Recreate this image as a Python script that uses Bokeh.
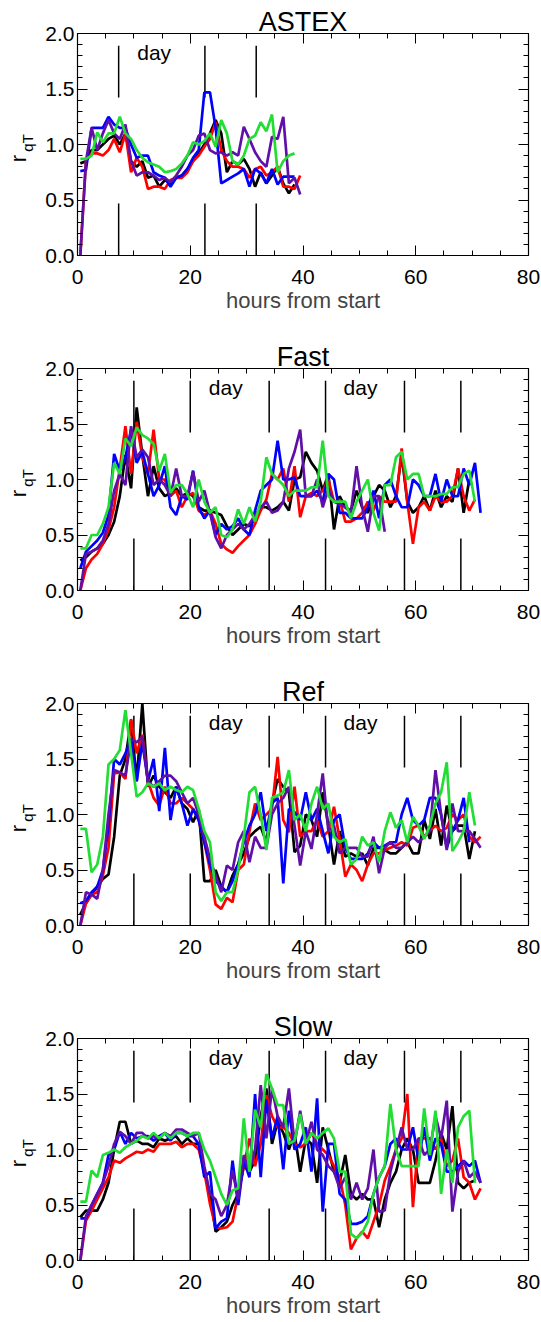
import math
import numpy as np
from bokeh.plotting import figure
from bokeh.models import (Range1d, LinearAxis, SingleIntervalTicker,
                          PrintfTickFormatter, Label)
from bokeh.layouts import column
from bokeh.embed import file_html
from bokeh.resources import INLINE

# ---------------- data ----------------
HOURS = np.arange(0.5, 72.0, 1.0)          # hourly sample times

# ASTEX
astex_black = [0.83,0.85,0.95,0.95,1.0,1.05,1.08,1.0,1.1,0.85, 0.8,0.85,0.7,0.72,0.62,0.68,0.65,0.7,0.72,0.78,
               0.85,0.92,1.0,1.1,1.22,1.1,0.75,0.85,0.82,0.87, 0.78,0.62,0.75,0.65,0.72,0.8,0.65,0.56,0.64]
astex_red = [0.0,0.85,0.92,0.92,0.9,0.95,1.05,0.93,1.1,0.75, 0.88,0.8,0.6,0.62,0.62,0.6,0.68,0.7,0.7,0.75,
             0.85,0.9,0.98,1.05,1.2,0.95,0.85,0.8,0.8,0.78, 0.7,0.78,0.8,0.72,0.75,0.8,0.62,0.62,0.6,0.72]
astex_blue = [0.76,0.77,1.15,1.15,1.15,1.25,1.18,1.15,1.15,1.0, 0.88,0.9,0.9,0.75,0.72,0.7,0.62,0.7,0.72,0.78,
              0.88,0.95,1.47,1.47,1.15,0.65,0.68,0.71,0.74,0.78, 0.62,0.78,0.74,0.65,0.78,0.64,0.71,0.71,0.71]
astex_purple = [0.0,0.85,1.15,0.95,1.1,1.22,1.1,1.05,1.18,0.85, 0.72,0.75,0.75,0.72,0.68,0.7,0.66,0.72,0.8,0.9,
                0.95,1.08,1.1,0.95,0.92,0.93,0.9,0.93,0.9,1.16, 1.05,0.93,0.85,0.8,1.07,1.05,1.25,0.65,0.7,0.55]
astex_green = [0.87,0.87,0.9,1.11,1.02,1.1,1.1,1.25,1.1,1.05, 0.95,0.88,0.84,0.82,0.8,0.75,0.76,0.78,0.83,0.9,
               1.02,1.0,1.03,1.1,0.98,1.22,1.1,0.85,0.82,0.9, 1.05,1.08,1.2,1.12,1.27,0.75,0.85,0.9,0.92]
astex_day_lines = [7.3, 22.6, 31.7]
astex_day_labels = [13.6]

# Fast
fast_black = [0.27,0.3,0.35,0.38,0.42,0.5,0.62,0.85,1.22,0.92, 1.65,1.22,0.85,1.12,0.92,0.85,0.88,0.92,0.85,0.88,
              0.85,0.75,0.72,0.72,0.7,0.68,0.58,0.5,0.55,0.6, 0.58,0.65,0.75,0.75,0.72,0.75,0.8,0.72,1.0,1.02,
              1.25,1.15,1.08,0.9,1.05,0.55,0.85,0.75,0.72,0.9, 0.75,0.7,0.85,0.95,0.9,0.75,0.85,1.22,0.8,0.7,
              0.75,0.85,0.72,0.9,0.75,0.85,0.8,1.1,0.7,1.0]
fast_red = [0.0,0.2,0.28,0.33,0.42,0.55,0.75,1.1,1.48,1.05, 1.52,1.2,1.05,1.45,1.0,1.0,0.85,0.9,0.75,0.85,
            0.88,0.72,0.68,0.72,0.6,0.42,0.37,0.34,0.4,0.45, 0.5,0.6,0.72,0.82,1.05,1.0,1.1,0.8,1.12,0.66,
            0.85,0.88,0.85,0.9,1.0,0.8,0.82,0.62,0.62,0.65, 0.7,0.8,0.72,0.85,0.8,0.8,0.8,1.28,0.8,0.42,
            0.75,0.8,0.72,0.85,0.8,0.8,0.85,1.1,0.85,0.72, 0.82]
fast_blue = [0.2,0.35,0.4,0.45,0.52,0.68,1.23,1.08,1.2,1.45, 1.15,1.25,1.05,0.85,0.95,1.12,0.75,0.68,0.85,0.82,
             1.08,0.75,0.65,0.72,0.5,0.6,0.55,0.58,0.65,0.55, 0.5,0.72,0.9,0.95,1.0,1.35,1.0,1.0,1.02,0.85,
             0.85,0.85,0.9,0.8,1.05,1.0,0.7,0.7,0.65,0.65, 0.65,0.75,0.9,0.65,0.95,1.0,0.85,0.75,0.75,1.0,
             0.95,0.85,0.85,1.05,0.8,1.0,0.85,0.85,1.1,0.95, 1.15,0.7]
fast_purple = [0.0,0.33,0.35,0.38,0.45,0.6,0.9,1.05,0.95,1.48, 1.2,1.27,1.2,0.95,1.0,0.95,0.85,1.1,0.85,0.85,
               1.07,0.8,0.9,0.7,0.48,0.38,0.5,0.55,0.6,0.55, 0.6,0.68,0.75,0.8,0.7,0.72,0.8,1.1,1.25,1.45,
               0.85,0.85,1.0,0.75,0.92,0.8,0.78,0.75,0.7,1.12, 0.75,0.53,0.85,0.85,0.53]
fast_green = [0.38,0.38,0.5,0.5,0.6,0.75,1.15,1.05,1.37,1.3, 1.47,1.4,1.37,1.32,1.08,1.23,0.88,0.95,0.95,0.87,
              0.75,1.0,0.8,0.7,0.75,0.5,0.48,0.55,0.73,0.6, 0.75,0.62,0.8,1.2,1.05,1.0,0.95,0.85,0.9,0.9,
              0.9,0.93,0.93,1.35,0.85,0.8,0.8,0.8,0.65,0.8, 0.9,1.0,0.7,0.54,0.95,0.95,1.2,1.25,1.0,1.05,
              1.05,0.85,0.85,0.85,0.87,0.87,0.93,0.93,1.05,1.08, 0.8]
day_lines_long = [10.0, 20.0, 34.0, 44.0, 58.0, 68.0]
day_labels_long = [26.3, 50.2]

# Ref
ref_black = [0.1,0.2,0.28,0.35,0.42,0.46,0.8,1.35,1.5,1.85, 1.3,2.0,1.25,1.35,1.25,1.2,1.15,1.25,1.1,1.05,
             0.93,1.05,0.4,0.4,0.5,0.35,0.3,0.45,0.55,0.65, 0.8,0.85,0.89,0.75,1.1,1.32,1.25,1.2,0.66,0.72,
             1.0,0.95,0.8,1.2,0.9,0.55,0.85,0.62,0.65,0.62, 0.65,0.54,0.7,0.7,0.68,0.65,0.65,0.7,0.75,0.65,
             0.65,0.95,0.78,1.05,0.72,1.08,0.85,0.9,0.9,0.6, 0.85]
ref_red = [0.0,0.2,0.28,0.3,0.45,0.7,1.37,1.38,1.32,1.86, 1.55,1.72,1.3,1.15,1.08,1.25,1.1,1.1,1.15,1.1,
           1.05,0.95,0.75,0.5,0.19,0.15,0.25,0.21,0.5,0.55, 0.85,1.1,0.95,1.0,1.05,1.52,0.95,0.84,1.25,0.8,
           0.85,0.85,0.95,0.8,0.85,1.07,0.78,0.44,0.55,0.5, 0.4,0.55,0.65,0.65,0.68,0.7,0.72,0.75,0.72,0.88,
           0.9,0.8,0.85,0.9,0.85,0.88,1.0,0.95,1.0,0.8, 0.75,0.8]
ref_blue = [0.2,0.22,0.3,0.35,0.5,0.9,1.5,1.45,1.55,1.68, 1.3,1.65,1.3,1.5,1.03,1.6,0.95,1.25,1.1,0.9,
            1.05,0.95,0.75,0.55,0.4,0.35,0.3,0.4,0.55,0.75, 0.9,1.0,1.2,0.85,1.1,1.15,0.38,1.05,1.02,0.95,
            1.2,0.95,1.05,0.85,0.65,0.95,1.0,0.7,0.6,0.6, 0.6,0.65,0.75,0.7,0.72,0.75,0.75,1.0,1.15,0.95,
            0.9,0.95,1.15,1.15,1.0,0.7,0.85,0.95,1.15,0.75]
ref_purple = [0.0,0.3,0.28,0.24,0.5,1.0,1.4,1.38,1.35,1.68, 1.65,1.7,1.3,1.25,1.3,1.35,1.35,1.3,1.2,1.1,
              1.15,1.0,0.8,0.6,0.45,0.3,0.54,0.5,0.75,0.85, 0.57,0.8,0.7,0.7,1.0,1.1,1.15,1.25,0.9,0.54,
              0.85,0.69,1.0,1.37,0.85,0.9,0.65,0.7,0.7,0.7, 0.62,0.62,0.8,0.47,0.7,0.75,0.7,0.7,0.75,0.8,
              0.75,0.8,0.85,1.4,1.0,0.68,1.1,0.85,0.85,0.85, 0.78,0.7]
ref_green = [0.87,0.87,0.48,0.55,0.8,1.45,1.5,1.58,1.94,1.55, 1.16,1.2,1.28,1.25,1.28,1.22,1.25,1.22,1.2,1.25,
             1.22,1.05,0.85,0.75,0.3,0.22,0.3,0.3,0.5,0.8, 1.2,1.25,1.0,0.68,1.15,1.17,1.2,1.4,0.95,1.0,
             0.85,1.1,1.25,1.05,1.1,0.8,0.75,0.78,0.55,0.6, 0.8,0.72,0.75,0.57,0.85,1.02,0.88,0.95,0.75,0.98,
             0.9,0.78,0.9,1.1,1.2,1.47,0.67,0.75,0.85,1.2, 0.9]

# Slow
slow_black = [0.39,0.45,0.45,0.45,0.55,0.7,1.0,1.25,1.25,1.05, 1.08,1.05,1.05,1.02,1.1,1.08,1.1,1.12,1.05,1.1,
              1.05,1.05,0.8,0.6,0.26,0.3,0.35,0.5,0.6,0.85, 0.8,0.9,1.3,1.55,1.05,1.25,1.15,1.0,1.15,0.8,
              1.1,1.05,0.7,1.2,1.0,0.8,0.7,0.95,0.6,0.55, 0.6,0.55,0.55,0.3,0.55,0.7,0.8,1.0,1.1,1.0,
              0.7,0.7,0.7,0.9,1.15,1.0,1.39,0.7,0.65,0.7, 0.72]
slow_red = [0.0,0.36,0.45,0.55,0.65,0.75,0.9,0.88,0.92,0.95, 0.98,0.97,1.0,0.98,1.05,1.05,1.05,1.07,1.02,1.05,
            1.05,1.0,0.8,0.51,0.3,0.29,0.3,0.35,0.6,0.85, 1.1,0.85,1.05,1.49,1.3,1.2,1.2,1.15,1.05,1.02,
            1.05,1.15,1.05,1.0,0.95,0.85,0.75,0.5,0.1,0.2, 0.26,0.2,0.35,0.5,0.72,0.85,1.0,1.1,1.5,0.48,
            1.1,1.1,1.1,1.0,1.1,0.85,0.9,1.1,0.75,0.7, 0.55,0.65]
slow_blue = [0.38,0.38,0.5,0.6,0.7,0.95,1.0,1.16,1.05,1.15, 1.1,1.12,1.12,1.08,1.12,1.15,1.08,1.15,1.15,1.12,
             1.12,1.05,0.75,0.8,0.29,0.35,0.38,0.9,0.5,0.9, 0.75,1.5,0.75,1.45,1.1,1.3,0.82,1.35,1.0,1.05,
             1.2,0.8,1.46,0.44,1.05,1.05,0.6,0.55,0.33,0.33, 0.35,0.4,0.6,0.75,0.85,1.05,1.1,1.0,1.0,1.2,
             0.9,1.2,0.9,1.1,1.05,0.8,0.8,0.85,0.9,0.85, 0.9,0.7]
slow_purple = [0.0,0.4,0.5,0.6,0.7,0.85,1.05,1.16,1.12,1.05, 1.15,1.15,1.1,1.12,1.1,1.15,1.12,1.18,1.18,1.15,
               1.12,1.15,0.85,0.6,0.55,0.4,0.5,0.81,0.55,0.95, 0.8,1.0,1.58,1.1,1.55,1.3,1.2,1.55,1.05,1.35,
               1.05,1.25,1.0,0.95,0.85,0.8,0.65,0.75,0.55,0.7, 0.55,0.65,1.0,0.44,0.45,0.8,1.0,1.2,1.0,1.0,
               1.1,0.95,1.0,1.3,1.1,1.44,0.44,0.8,0.9,0.75, 0.8,0.7]
slow_green = [0.53,0.53,0.81,0.75,0.95,0.97,1.0,0.97,1.02,1.05, 1.08,1.12,1.1,1.15,1.1,1.15,1.1,1.15,1.15,1.12,
              1.15,1.15,1.0,0.9,0.75,0.6,0.5,0.63,0.65,1.28, 0.8,1.36,1.2,1.68,1.55,1.4,1.4,1.05,1.08,1.32,
              1.05,1.15,1.1,1.15,1.19,1.1,0.8,0.8,0.24,0.2, 0.25,0.35,0.6,0.75,0.85,1.41,1.0,0.85,0.85,0.85,
              0.85,1.37,0.95,1.35,0.6,1.0,0.7,1.2,1.3,1.35, 0.7]

SERIES_COLORS = ["#000000", "#FF0000", "#0000FF", "#6010A8", "#22DD33"]

PANELS = [
    ("ASTEX", [astex_black, astex_red, astex_blue, astex_purple, astex_green], astex_day_lines, astex_day_labels),
    ("Fast", [fast_black, fast_red, fast_blue, fast_purple, fast_green], day_lines_long, day_labels_long),
    ("Ref", [ref_black, ref_red, ref_blue, ref_purple, ref_green], day_lines_long, day_labels_long),
    ("Slow", [slow_black, slow_red, slow_blue, slow_purple, slow_green], day_lines_long, day_labels_long),
]

# ---------------- styling ----------------
FONT = "Liberation Sans"
DAY_LINE_TOP = 1.89


def style_axis(ax, show_labels):
    ax.axis_line_color = "black"
    ax.axis_line_width = 1.2
    ax.major_tick_in = 10
    ax.major_tick_out = 0
    ax.minor_tick_in = 5
    ax.minor_tick_out = 0
    ax.major_tick_line_color = "black"
    ax.minor_tick_line_color = "black"
    ax.major_label_text_font = FONT
    if show_labels:
        ax.major_label_text_font_size = "21px"
        ax.major_label_text_color = "black"
    else:
        ax.major_label_text_font_size = "0px"
        ax.major_label_text_color = None
        ax.major_label_standoff = 0


def make_panel(title, series, day_lines, day_labels, height, bottom):
    p = figure(width=541, height=height, x_range=Range1d(0, 80), y_range=Range1d(0, 2.0),
               output_backend="svg", toolbar_location=None,
               x_axis_type=None, y_axis_type=None,
               min_border_left=76, min_border_right=13, min_border_top=33,
               min_border_bottom=bottom)
    p.outline_line_color = None
    p.background_fill_color = "white"
    p.border_fill_color = "white"

    for side in ["below", "above"]:
        ax = LinearAxis(ticker=SingleIntervalTicker(interval=20, num_minor_ticks=4))
        style_axis(ax, side == "below")
        if side == "below":
            ax.major_label_standoff = 14
            ax.axis_label = "hours from start"
            ax.axis_label_text_font = FONT
            ax.axis_label_text_font_size = "22px"
            ax.axis_label_text_font_style = "normal"
            ax.axis_label_standoff = 1
        p.add_layout(ax, side)
    for side in ["left", "right"]:
        ax = LinearAxis(ticker=SingleIntervalTicker(interval=0.5, num_minor_ticks=5),
                        formatter=PrintfTickFormatter(format="%.1f"))
        style_axis(ax, side == "left")
        if side == "left":
            ax.major_label_standoff = 3
        p.add_layout(ax, side)

    # day / night markers
    p.segment(x0=day_lines, y0=[0] * len(day_lines), x1=day_lines,
              y1=[DAY_LINE_TOP] * len(day_lines),
              line_color="black", line_width=1.5, line_dash="52 106")

    for vals, color in zip(series, SERIES_COLORS):
        p.line(HOURS[:len(vals)], vals, line_color=color, line_width=2.7)

    for xl in day_labels:
        p.add_layout(Label(x=xl, y=1.83, text="day", text_align="center",
                           text_baseline="alphabetic", text_font=FONT,
                           text_font_size="21px", text_color="black"))

    # panel title (placed in the top side panel so it is not clipped to the frame)
    p.add_layout(Label(x=40, y=2.105, text=title, text_align="center",
                       text_baseline="alphabetic", text_font=FONT,
                       text_font_size="27px", text_color="black"), "above")

    # y-axis label r_qT (r with subscript qT)
    p.add_layout(Label(x=-10.4, y=0.84, text="r", angle=math.pi / 2,
                       text_align="left", text_baseline="alphabetic",
                       text_font=FONT, text_font_size="22px", text_color="black"), "left")
    p.add_layout(Label(x=-8.9, y=0.935, text="qT", angle=math.pi / 2,
                       text_align="left", text_baseline="alphabetic",
                       text_font=FONT, text_font_size="15px", text_color="black"), "left")
    return p


figs = []
for k, (title, series, dl, dlab) in enumerate(PANELS):
    last = k == len(PANELS) - 1
    figs.append(make_panel(title, series, dl, dlab,
                           height=317 if last else 335,
                           bottom=62 if last else 80))

layout = column(*figs, spacing=0)
open("out.html", "w").write(file_html(layout, INLINE))
